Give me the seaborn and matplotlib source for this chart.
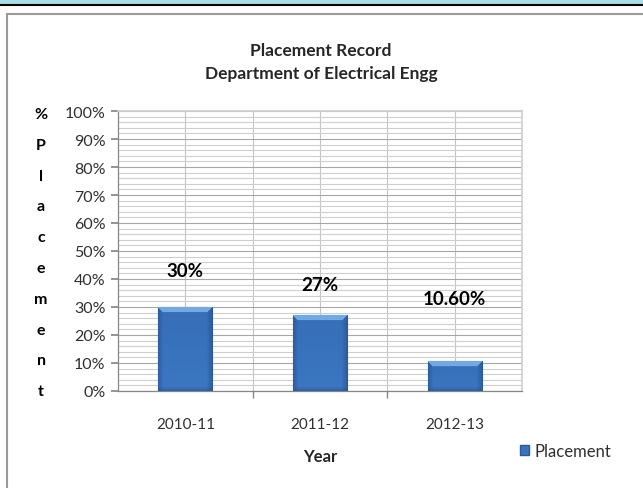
import numpy as np
import pandas as pd
import seaborn as sns
import matplotlib.pyplot as plt
from matplotlib.patches import Rectangle
from matplotlib.lines import Line2D
from matplotlib.ticker import MultipleLocator, PercentFormatter

years = ["2010-11", "2011-12", "2012-13"]
placement = [30.0, 27.0, 10.6]
bar_labels = ["30%", "27%", "10.60%"]
label_heights = [43, 38, 33]  # where Excel put the data labels

sns.set_theme(style="white")
plt.rcParams['font.family'] = ['Lato', 'DejaVu Sans']

df = pd.DataFrame({"Year": years, "Placement": placement})

fig = plt.figure(figsize=(6.43, 4.89), dpi=100)
ax = fig.add_axes([118 / 643, 1 - 392 / 489, 404 / 643, 280 / 489])

# frame pieces of the screenshot
fig.patches.append(Rectangle((0, 1 - 5 / 489), 1, 5 / 489, transform=fig.transFigure,
                             color="#a8dce8", zorder=0))
fig.lines.append(Line2D([0, 1], [1 - 6 / 489] * 2, transform=fig.transFigure, color="black", lw=1.5))
fig.lines.append(Line2D([7 / 643, 1], [1 - 15 / 489] * 2, transform=fig.transFigure, color="#9a9a9a", lw=1.5))
fig.lines.append(Line2D([7 / 643] * 2, [0, 1 - 15 / 489], transform=fig.transFigure, color="#9a9a9a", lw=1.5))

sns.barplot(data=df, x="Year", y="Placement", color="#3a73bd", width=0.4,
            edgecolor="#2b5b96", linewidth=0.8, ax=ax, zorder=3)

ax.set_xlim(-0.5, 2.5)
ax.set_ylim(0, 100)
ax.yaxis.set_major_locator(MultipleLocator(10))
ax.yaxis.set_minor_locator(MultipleLocator(2))
ax.yaxis.set_major_formatter(PercentFormatter(decimals=0))
ax.set_xticks([0.5, 1.5], minor=True)
ax.grid(True, which="major", axis="y", color="#a6a6a6", lw=0.8, zorder=0)
ax.grid(True, which="minor", axis="y", color="#cfcfcf", lw=0.8, zorder=0)
ax.grid(True, which="both", axis="x", color="#c4c4c4", lw=0.8, zorder=0)
ax.set_axisbelow(True)

for s in ["left", "bottom"]:
    ax.spines[s].set_color("#868686")
    ax.spines[s].set_linewidth(0.9)
ax.spines["right"].set_color("#d0d0d0")
ax.spines["top"].set_color("#d0d0d0")

ax.tick_params(axis="y", which="major", left=True, length=5, color="#868686",
               labelsize=11.5, labelcolor="#303030", pad=4)
ax.tick_params(axis="y", which="minor", left=False)
ax.tick_params(axis="x", which="major", bottom=False, labelsize=11, labelcolor="#303030", pad=13)
ax.tick_params(axis="x", which="minor", bottom=True, length=5, color="#868686")

ax.set_xlabel("Year", fontsize=12, fontweight="bold", labelpad=12)
ax.set_ylabel("")

# gradient fill on the bars
fig.canvas.draw()
for p in ax.patches:
    bb = p.get_window_extent()
    h, w = max(int(bb.height), 2), max(int(bb.width), 2)
    base = np.array([0x3b, 0x76, 0xc2]) / 255
    light = np.array([0x72, 0xa9, 0xe6]) / 255
    dark = np.array([0x25, 0x4f, 0x8a]) / 255
    img = np.tile(base, (h, w, 1))
    yy = np.arange(h)[:, None]
    xx = np.arange(w)[None, :]
    side = np.minimum(xx, w - 1 - xx)
    edge = np.clip(1 - side / 5, 0, 1)[..., None]
    img = img * (1 - 0.55 * edge) + dark * 0.55 * edge
    vert = np.clip(1 - yy / (h * 0.9), 0, 1)[..., None] * 0.2
    img = img * (1 - vert) + dark * vert
    top = ((yy < 5) & (side >= yy)).astype(float)[..., None]
    img = img * (1 - top) + light * top
    bot = np.clip(1 - (h - 1 - yy) / 4, 0, 1)[..., None] * 0.5
    img = img * (1 - bot) + dark * bot
    x0, y0 = p.get_x(), p.get_y()
    im = ax.imshow(img, extent=[x0, x0 + p.get_width(), y0, y0 + p.get_height()],
                   aspect="auto", zorder=4, interpolation="bilinear")
    im.set_clip_path(p)
ax.set_xlim(-0.5, 2.5)
ax.set_ylim(0, 100)

for i, (txt, ly) in enumerate(zip(bar_labels, label_heights)):
    ax.text(i, ly, txt, ha="center", va="center", fontsize=13.5, fontweight="bold", color="black")

# stacked y label
letters = list("%Placement")
for k, ch in enumerate(letters):
    fig.text(41 / 643, 1 - (115 + k * 30.8) / 489, ch, ha="center", va="center",
             fontsize=11.5, fontweight="bold", color="black")

fig.text(321 / 643, 1 - 51 / 489, "Placement Record", ha="center", va="center",
         fontsize=12.5, fontweight="bold")
fig.text(321 / 643, 1 - 74 / 489, "Department of Electrical Engg", ha="center", va="center",
         fontsize=12.5, fontweight="bold")

handle = Rectangle((0, 0), 1, 1, facecolor="#3a73bd", edgecolor="#2b5b96")
fig.legend([handle], ["Placement"], loc="center left", bbox_to_anchor=(505 / 643, 1 - 452 / 489),
           frameon=False, fontsize=12, handlelength=0.55, handleheight=0.55, handletextpad=0.3,
           labelcolor="#303030")

fig.savefig("out.png", dpi=100, facecolor="white")
